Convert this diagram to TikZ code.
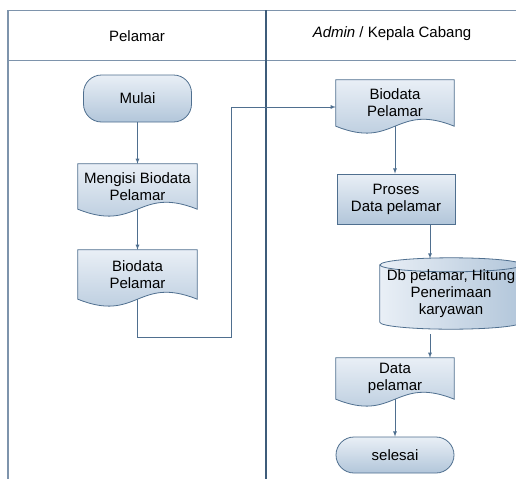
\documentclass[tikz,border=0pt]{standalone}
\usepackage{fontspec}
\setmainfont{Liberation Sans}
\usetikzlibrary{calc}
\usetikzlibrary{shapes,arrows}
\usetikzlibrary{backgrounds}

\definecolor{boxline}{HTML}{4F6F8F}
\definecolor{laneline}{HTML}{3E5C7A}
\definecolor{laneedge}{HTML}{7E94AC}
\definecolor{filltop}{HTML}{E9EFF6}
\definecolor{fillbot}{HTML}{B2C6DA}

\tikzset{
  flowtext/.style={align=center,inner sep=0pt,font=\fontsize{15}{17}\selectfont},
  docnode/.style={flowtext,minimum width=119pt},
  terminal/.style={flowtext,draw=boxline,line width=0.8pt,rounded corners=18pt,
    top color=filltop,bottom color=fillbot},
  prosesbox/.style={flowtext,draw=boxline,line width=0.8pt,minimum width=118pt,
    minimum height=50pt,top color=filltop,bottom color=fillbot},
  arr/.style={draw=boxline,line width=0.8pt,-latex}
}

% document shape with wavy bottom round a node
\newcommand{\docshape}[1]{%
  \begin{scope}[on background layer]
    \path[draw=boxline,line width=0.8pt,top color=filltop,bottom color=fillbot]
      (#1.north west) -- (#1.north east) -- (#1.south east)
      .. controls ($(#1.south)+(0,-24)$) and ($(#1.south)+(0,24)$) .. (#1.south west)
      -- cycle;
  \end{scope}}

% stored data cylinder round a node
\newcommand{\dbshape}[1]{%
  \begin{scope}[on background layer]
    \clip (current bounding box.south west) rectangle (current bounding box.north east);
    \path[draw=boxline,line width=0.8pt,left color=filltop,right color=fillbot]
      (#1.north west) -- (#1.south west)
      arc[start angle=180,end angle=360,x radius=71pt,y radius=7pt]
      -- (#1.north east)
      arc[start angle=0,end angle=180,x radius=71pt,y radius=7pt] -- cycle;
    \draw[boxline,line width=0.8pt] (#1.north west)
      arc[start angle=180,end angle=360,x radius=71pt,y radius=7pt];
  \end{scope}}

\begin{document}
\begin{tikzpicture}[x=1pt,y=-1pt]
    \useasboundingbox (0,0) rectangle (516,479);

    % swimlanes
    \draw[laneedge,line width=1pt] (8,10) -- (516,10);
    \draw[laneedge,line width=1pt] (8,60) -- (516,60);
    \draw[laneedge,line width=1.5pt] (8,10) -- (8,479);
    \draw[laneline,line width=2pt] (266,10) -- (266,479);

    \node[flowtext] (lanekiri) at (137,36) {Pelamar};
    \node[flowtext] (lanekanan) at (392,34) {\textit{Admin} / Kepala Cabang};

    % Pelamar
    \node[terminal,minimum width=108pt,minimum height=47pt] (mulai) at (137.5,98.5) {Mulai};
    \node[docnode,minimum height=45pt] (mengisi) at (137.5,186.5) {Mengisi Biodata\\Pelamar};
    \node[docnode,minimum height=49pt] (biodataA) at (137.5,274.5) {Biodata\\Pelamar};
    \docshape{mengisi}
    \docshape{biodataA}

    % Admin / Kepala Cabang
    \node[docnode,minimum width=118pt,minimum height=46pt] (biodataB) at (395,103) {Biodata\\Pelamar};
    \node[prosesbox] (proses) at (396,199) {Proses\\Data pelamar};
    \node[flowtext,minimum width=142pt,minimum height=57pt] (db) at (451,293.5) {Db pelamar, Hitung\\Penerimaan\\karyawan};
    \node[docnode,minimum width=118pt,minimum height=41pt] (data) at (395,378.5) {Data\\pelamar};
    \node[terminal,minimum width=118pt,minimum height=36pt] (selesai) at (395,455) {selesai};
    \docshape{biodataB}
    \dbshape{db}
    \docshape{data}

    \coordinate (belok) at (231,337);
    \coordinate (dbatas) at (430,258.5);
    \coordinate (dbbawah) at (430,334);

    \draw[arr] (mulai.south) -- (mulai.south |- mengisi.north);
    \draw[arr] (mengisi.south) -- (biodataA.north);
    \draw[arr] (biodataA.south) |- (belok) |- ([yshift=-4pt]biodataB.west);
    \draw[arr] (biodataB.south) -- (biodataB.south |- proses.north);
    \draw[arr] (proses.south -| dbatas) -- (dbatas);
    \draw[arr] (dbbawah) -- (dbbawah |- data.north);
    \draw[arr] (data.south) -- (selesai.north);
\end{tikzpicture}
\end{document}
